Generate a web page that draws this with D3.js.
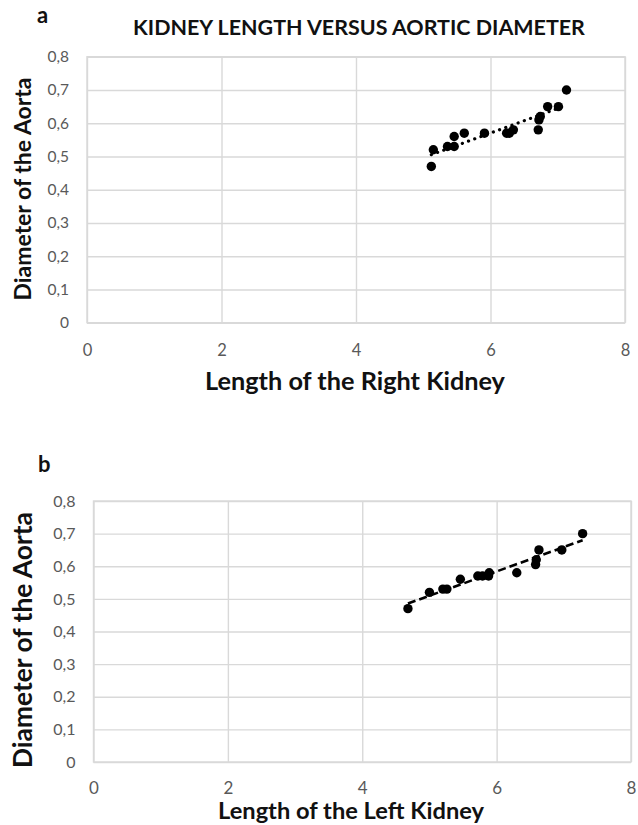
<!DOCTYPE html>
<html><head><meta charset="utf-8">
<script src="https://cdn.jsdelivr.net/npm/d3@7"></script>
<style>body{margin:0;background:#fff}svg{display:block}</style>
</head><body><svg id="c" width="638" height="825"></svg>
<script>
// ---- data ----
const xTicks = [0, 2, 4, 6, 8];
const yTicks = [0, 0.1, 0.2, 0.3, 0.4, 0.5, 0.6, 0.7, 0.8];
const chartTitle = "KIDNEY LENGTH VERSUS AORTIC DIAMETER";
const yTitle = "Diameter of the Aorta";
const rightKidney = [5.12, 5.15, 5.36, 5.46, 5.46, 5.61, 5.91, 6.24, 6.28, 6.34, 6.71, 6.72, 6.74, 6.85, 7.01, 7.13];
const aortaRight  = [0.47, 0.52, 0.53, 0.53, 0.56, 0.57, 0.57, 0.57, 0.57, 0.58, 0.58, 0.61, 0.62, 0.65, 0.65, 0.70];
const leftKidney  = [4.68, 5.00, 5.20, 5.26, 5.46, 5.72, 5.79, 5.88, 5.89, 6.30, 6.58, 6.59, 6.63, 6.97, 7.28];
const aortaLeft   = [0.47, 0.52, 0.53, 0.53, 0.56, 0.57, 0.57, 0.57, 0.58, 0.58, 0.605, 0.62, 0.65, 0.65, 0.70];

const FONT = "Lato, 'Open Sans', sans-serif";
const panels = [
  {label: "a", xs: rightKidney, ys: aortaRight, xTitle: "Length of the Right Kidney",
   box: {l: 87, r: 625, t: 56.7, b: 322.7}, dash: "0.1 6.5", lw: 3.2,
   labelPos: [37, 23], yTitlePos: [31, 189], yTitleW: 223, xTickY: 356, xTitlePos: [355, 390], xTitleW: 300, tickSize: 15.5},
  {label: "b", xs: leftKidney, ys: aortaLeft, xTitle: "Length of the Left Kidney",
   box: {l: 93.5, r: 631, t: 501, b: 762}, dash: "8 4", lw: 2.6,
   labelPos: [38, 472], yTitlePos: [32, 640], yTitleW: 256, xTickY: 794, xTitlePos: [351, 819], xTitleW: 266, tickSize: 16}
];

const svg = d3.select("#c");
const fmt = d => d === 0 ? "0" : d3.format(".1f")(d).replace(".", ",");
const grid = "#d9d9d9";

// scale font-size so the text spans the wanted width
function fit(sel, w) {
  const fs = +sel.attr("font-size");
  const len = sel.node().getComputedTextLength();
  sel.attr("font-size", (fs * w / len).toFixed(2));
  return sel;
}

fit(svg.append("text").attr("x", 359).attr("y", 35).attr("text-anchor", "middle")
  .attr("font-family", FONT).attr("font-weight", 700)
  .attr("font-size", 18).attr("fill", "#111").text(chartTitle), 452);

panels.forEach(p => {
  const B = p.box;
  const x = d3.scaleLinear().domain([0, 8]).range([B.l, B.r]);
  const y = d3.scaleLinear().domain([0, 0.8]).range([B.b, B.t]);
  const g = svg.append("g");

  // gridlines
  const gy = g.append("g").attr("transform", `translate(${B.l},0)`)
    .call(d3.axisLeft(y).tickValues(yTicks).tickSize(-(B.r - B.l)).tickFormat(""));
  const gx = g.append("g").attr("transform", `translate(0,${B.b})`)
    .call(d3.axisBottom(x).tickValues(xTicks).tickSize(-(B.b - B.t)).tickFormat(""));
  [gy, gx].forEach(a => {
    a.select(".domain").remove();
    a.selectAll("line").attr("stroke", grid).attr("stroke-width", 1.4);
  });
  g.append("rect").attr("x", B.l).attr("y", B.t).attr("width", B.r - B.l).attr("height", B.b - B.t)
    .attr("fill", "none").attr("stroke", grid).attr("stroke-width", 1.4);

  // tick labels
  const ly = g.append("g").attr("transform", `translate(${B.l},0)`)
    .call(d3.axisLeft(y).tickValues(yTicks).tickSize(0).tickPadding(18).tickFormat(fmt));
  const lx = g.append("g").attr("transform", `translate(0,${B.b})`)
    .call(d3.axisBottom(x).tickValues(xTicks).tickSize(0).tickPadding(0).tickFormat(d3.format("d")));
  [ly, lx].forEach(a => {
    a.select(".domain").remove();
    a.selectAll("text").attr("fill", "#595959").attr("font-family", FONT)
      .attr("font-size", p.tickSize);
  });
  lx.selectAll("text").attr("dy", null).attr("y", p.xTickY - B.b).attr("font-size", p.tickSize + 1);

  // titles
  svg.append("text").attr("x", p.labelPos[0]).attr("y", p.labelPos[1])
    .attr("font-family", FONT).attr("font-weight", 700).attr("font-size", 22).attr("fill", "#111").text(p.label);
  fit(svg.append("text").attr("transform", `translate(${p.yTitlePos[0]},${p.yTitlePos[1]}) rotate(-90)`)
    .attr("text-anchor", "middle").attr("font-family", FONT).attr("font-weight", 700)
    .attr("font-size", 20).attr("fill", "#111").text(yTitle), p.yTitleW);
  fit(svg.append("text").attr("x", p.xTitlePos[0]).attr("y", p.xTitlePos[1])
    .attr("text-anchor", "middle").attr("font-family", FONT).attr("font-weight", 700)
    .attr("font-size", 20).attr("fill", "#111").text(p.xTitle), p.xTitleW);

  // linear trendline (least squares over the data)
  const pts = p.xs.map((v, i) => [v, p.ys[i]]);
  const mx = d3.mean(pts, d => d[0]), my = d3.mean(pts, d => d[1]);
  const slope = d3.sum(pts, d => (d[0] - mx) * (d[1] - my)) / d3.sum(pts, d => (d[0] - mx) ** 2);
  const icpt = my - slope * mx;
  const ext = d3.extent(p.xs);
  g.append("line")
    .attr("x1", x(ext[0])).attr("y1", y(icpt + slope * ext[0]))
    .attr("x2", x(ext[1])).attr("y2", y(icpt + slope * ext[1]))
    .attr("stroke", "#000").attr("stroke-width", p.lw).attr("stroke-dasharray", p.dash)
    .attr("stroke-linecap", p.label === "a" ? "round" : "butt");

  // points
  g.selectAll("circle.pt").data(pts).join("circle").attr("class", "pt")
    .attr("cx", d => x(d[0])).attr("cy", d => y(d[1])).attr("r", 4.7).attr("fill", "#000");
});
</script></body></html>
